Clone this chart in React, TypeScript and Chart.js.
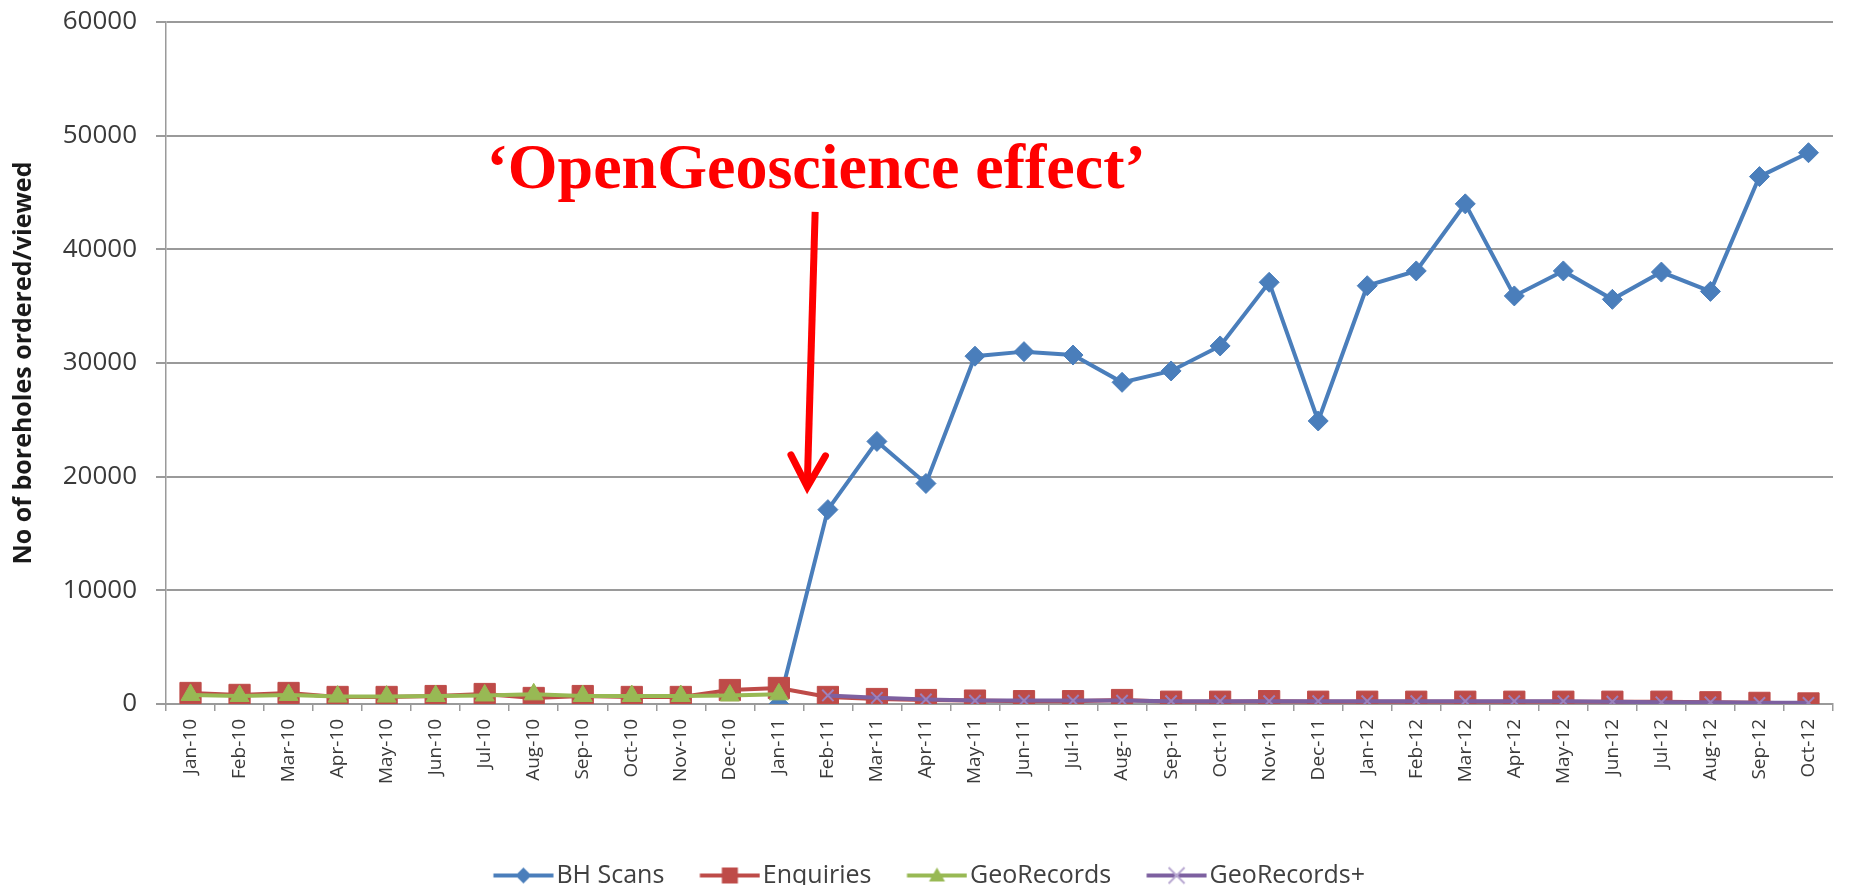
import React, { useEffect, useRef } from 'react';
import { Chart, registerables } from 'chart.js';

Chart.register(...registerables);

const categories = [
  'Jan-10', 'Feb-10', 'Mar-10', 'Apr-10', 'May-10', 'Jun-10', 'Jul-10', 'Aug-10', 'Sep-10', 'Oct-10', 'Nov-10', 'Dec-10',
  'Jan-11', 'Feb-11', 'Mar-11', 'Apr-11', 'May-11', 'Jun-11', 'Jul-11', 'Aug-11', 'Sep-11', 'Oct-11', 'Nov-11', 'Dec-11',
  'Jan-12', 'Feb-12', 'Mar-12', 'Apr-12', 'May-12', 'Jun-12', 'Jul-12', 'Aug-12', 'Sep-12', 'Oct-12',
];

const bhScans = [
  null, null, null, null, null, null, null, null, null, null, null, null,
  0, 17100, 23100, 19400, 30600, 31000, 30700, 28300, 29300, 31500, 37100, 24900,
  36800, 38100, 44000, 35900, 38100, 35600, 38000, 36300, 46400, 48500,
];

const enquiries = [
  970, 800, 970, 620, 620, 700, 880, 530, 700, 620, 620, 1230,
  1410, 620, 440, 350, 300, 250, 250, 350, 200, 200, 250, 200,
  200, 200, 200, 200, 200, 200, 200, 150, 100, 50,
];

const geoRecords = [
  800, 700, 800, 650, 650, 700, 750, 850, 700, 700, 700, 750,
  850, null, null, null, null, null, null, null, null, null, null, null,
  null, null, null, null, null, null, null, null, null, null,
];

const geoRecordsPlus = [
  null, null, null, null, null, null, null, null, null, null, null, null,
  null, 750, 550, 400, 300, 300, 300, 300, 250, 250, 250, 250,
  250, 250, 250, 250, 250, 200, 150, 150, 100, 100,
];

const yTicks = [0, 10000, 20000, 30000, 40000, 50000, 60000];

const seriesNames = ['BH Scans', 'Enquiries', 'GeoRecords', 'GeoRecords+'];
const seriesColors = ['#4A7EBB', '#BE4B48', '#98B954', '#7D60A0'];
const seriesMarkers = ['rectRot', 'rect', 'triangle', 'crossRot'];

const annotationText = '\u2018OpenGeoscience effect\u2019';
const annotationLabelAt = { index: 12.76, value: 45400 };
const arrowFrom = { index: 12.74, value: 43300 };
const arrowTo = { index: 12.58, value: 19100 };

const TICK_FONT = "'Open Sans', 'DejaVu Sans', sans-serif";

function makeLegendImage(color: string, marker: string): HTMLCanvasElement {
  const c = document.createElement('canvas');
  c.width = 80;
  c.height = 24;
  const ctx = c.getContext('2d')!;
  const x0 = 19.5, x1 = 79.5, cy = 12;
  const cx = (x0 + x1) / 2;
  ctx.strokeStyle = color;
  ctx.lineWidth = 4;
  ctx.beginPath();
  ctx.moveTo(x0, cy);
  ctx.lineTo(x1, cy);
  ctx.stroke();
  ctx.fillStyle = color;
  ctx.beginPath();
  if (marker === 'rectRot') {
    ctx.moveTo(cx, cy - 8); ctx.lineTo(cx + 8, cy); ctx.lineTo(cx, cy + 8); ctx.lineTo(cx - 8, cy); ctx.closePath(); ctx.fill();
  } else if (marker === 'rect') {
    ctx.rect(cx - 8, cy - 8, 16, 16); ctx.fill();
  } else if (marker === 'triangle') {
    ctx.moveTo(cx, cy - 8); ctx.lineTo(cx + 8, cy + 6); ctx.lineTo(cx - 8, cy + 6); ctx.closePath(); ctx.fill();
  } else {
    ctx.strokeStyle = '#B9A9D2';
    ctx.lineWidth = 2;
    ctx.moveTo(cx - 8, cy - 8); ctx.lineTo(cx + 8, cy + 8);
    ctx.moveTo(cx + 8, cy - 8); ctx.lineTo(cx - 8, cy + 8);
    ctx.stroke();
  }
  return c;
}

const annotationPlugin = {
  id: 'ogeAnnotation',
  afterDatasetsDraw(chart: any) {
    const xs = chart.scales.x;
    const ys = chart.scales.y;
    const ctx = chart.ctx;
    ctx.save();
    const x1 = xs.getPixelForValue(arrowFrom.index);
    const y1 = ys.getPixelForValue(arrowFrom.value);
    const x2 = xs.getPixelForValue(arrowTo.index);
    const y2 = ys.getPixelForValue(arrowTo.value);
    ctx.strokeStyle = '#FF0000';
    ctx.lineWidth = 7;
    ctx.lineCap = 'butt';
    ctx.beginPath();
    ctx.moveTo(x1, y1);
    ctx.lineTo(x2, y2 - 3);
    ctx.stroke();
    const ang = Math.atan2(y2 - y1, x2 - x1);
    const head = 36;
    const spread = 0.5;
    ctx.lineCap = 'round';
    ctx.lineJoin = 'miter';
    ctx.lineWidth = 7;
    ctx.beginPath();
    ctx.moveTo(x2 - head * Math.cos(ang - spread), y2 - head * Math.sin(ang - spread));
    ctx.lineTo(x2, y2);
    ctx.lineTo(x2 - head * Math.cos(ang + spread), y2 - head * Math.sin(ang + spread));
    ctx.stroke();

    ctx.fillStyle = '#FF0000';
    ctx.font = "bold 64px 'Liberation Serif', 'Times New Roman', serif";
    ctx.textAlign = 'center';
    ctx.textBaseline = 'alphabetic';
    ctx.fillText(annotationText, xs.getPixelForValue(annotationLabelAt.index), ys.getPixelForValue(annotationLabelAt.value));
    ctx.restore();
  },
};

export default function App() {
  const canvasRef = useRef<HTMLCanvasElement | null>(null);

  useEffect(() => {
    if (!canvasRef.current) return;
    const legendImages = seriesColors.map((c, i) => makeLegendImage(c, seriesMarkers[i]));
    const seriesData = [bhScans, enquiries, geoRecords, geoRecordsPlus];
    const datasets = seriesNames.map((name, i) => ({
      label: name,
      data: seriesData[i],
      borderColor: seriesColors[i],
      backgroundColor: seriesColors[i],
      borderWidth: 4,
      pointStyle: seriesMarkers[i],
      pointRadius: i === 0 ? 10 : i === 1 ? 15 : i === 2 ? 11 : 8,
      pointBorderWidth: i === 3 ? 2 : 1,
      pointBorderColor: i === 3 ? '#9B82BD' : seriesColors[i],
      pointBackgroundColor: seriesColors[i],
      tension: 0,
      order: 3 - i,
    }));

    const chart = new Chart(canvasRef.current, {
      type: 'line',
      data: { labels: categories, datasets },
      options: {
        animation: false,
        responsive: true,
        maintainAspectRatio: false,
        layout: { padding: { left: 0, right: 0, top: 22, bottom: -13 } },
        plugins: {
          tooltip: { enabled: false },
          legend: {
            position: 'bottom',
            labels: {
              usePointStyle: true,
              pointStyleWidth: 60,
              padding: 26,
              color: '#404040',
              font: { family: TICK_FONT, size: 25 },
              generateLabels: (ch: any) => {
                const items = (Chart.defaults.plugins.legend.labels as any).generateLabels(ch);
                return items
                  .sort((a: any, b: any) => a.datasetIndex - b.datasetIndex)
                  .map((it: any) => ({ ...it, pointStyle: legendImages[it.datasetIndex] }));
              },
            },
          },
        },
        scales: {
          x: {
            offset: true,
            grid: {
              display: true,
              drawOnChartArea: false,
              drawTicks: true,
              tickLength: 7,
              offset: true,
              color: '#9a9a9a',
              lineWidth: 1.5,
            },
            border: { display: true, color: '#9a9a9a', width: 2 },
            ticks: {
              autoSkip: false,
              maxRotation: 90,
              minRotation: 90,
              padding: 8,
              color: '#3a3a3a',
              font: { family: TICK_FONT, size: 19 },
            },
            afterFit: (s: any) => { s.height = 133; },
          },
          y: {
            min: yTicks[0],
            max: yTicks[yTicks.length - 1],
            afterBuildTicks: (s: any) => { s.ticks = yTicks.map((v) => ({ value: v })); },
            grid: {
              color: '#9a9a9a',
              lineWidth: 2,
              drawTicks: true,
              tickLength: 10,
            },
            border: { display: true, color: '#9a9a9a', width: 1.5 },
            ticks: {
              padding: 19,
              color: '#3a3a3a',
              font: { family: TICK_FONT, size: 26 },
              callback: (v: any) => String(v),
            },
            title: {
              display: true,
              text: 'No of boreholes ordered/viewed',
              color: '#1a1a1a',
              font: { family: TICK_FONT, size: 25, weight: 'bold' },
              padding: { top: 9, bottom: 0 },
            },
            afterFit: (s: any) => { s.width = 166; s.paddingTop = 0; },
          },
        },
      },
      plugins: [annotationPlugin],
    });
    return () => chart.destroy();
  }, []);

  return (
    <div style={{ position: 'fixed', left: 0, top: 0, width: 1849, height: 885, background: '#ffffff' }}>
      <canvas ref={canvasRef} />
    </div>
  );
}
